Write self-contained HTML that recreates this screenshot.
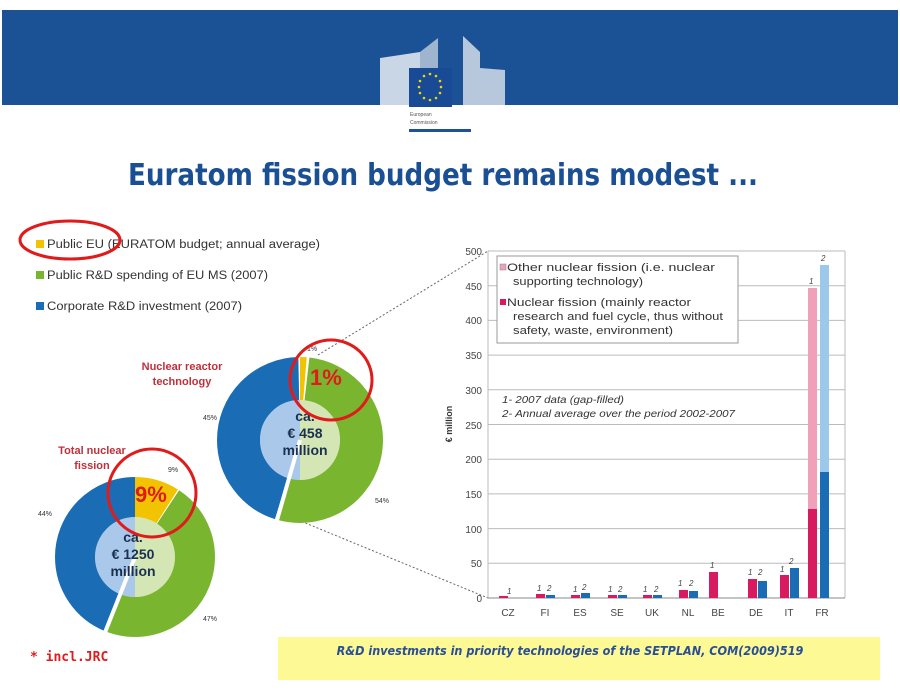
<!DOCTYPE html>
<html><head><meta charset="utf-8"><style>
body{margin:0;background:#fff;}
svg{display:block;font-family:"Liberation Sans",sans-serif;}
</style></head><body>
<svg width="900" height="695" viewBox="0 0 900 695">
<rect x="2" y="10" width="896" height="95" fill="#1b5296"/>
<!-- logo -->
<g>
<path d="M380 58 L420 52 L420 105 L380 105Z" fill="#c9d6e6"/>
<path d="M420 52 L438 38 L438 105 L420 105Z" fill="#9fb4cf"/>
<path d="M463 36 L480 52 L480 68 L505 70 L505 105 L463 105Z" fill="#b7c8dd"/>
<rect x="409" y="68" width="43" height="39" fill="#184a96"/>
<g fill="#f2d500">
<circle cx="430" cy="74" r="1.3"/><circle cx="436" cy="76" r="1.3"/><circle cx="440" cy="81" r="1.3"/><circle cx="441" cy="87" r="1.3"/><circle cx="440" cy="93" r="1.3"/><circle cx="436" cy="98" r="1.3"/><circle cx="430" cy="100" r="1.3"/><circle cx="424" cy="98" r="1.3"/><circle cx="420" cy="93" r="1.3"/><circle cx="419" cy="87" r="1.3"/><circle cx="420" cy="81" r="1.3"/><circle cx="424" cy="76" r="1.3"/>
</g>
<text x="410" y="116" font-size="5" fill="#555">European</text>
<text x="410" y="124" font-size="5" fill="#555">Commission</text>
<rect x="409" y="129" width="62" height="3" fill="#1b5296"/>
</g>
<text x="128" y="185" textLength="630" lengthAdjust="spacingAndGlyphs" font-size="30" font-weight="bold" fill="#1a4f94" font-family="DejaVu Sans Condensed, DejaVu Sans, sans-serif">Euratom fission budget remains modest ...</text>

<!-- legend left -->
<rect x="36" y="240" width="8" height="8" fill="#f2c300"/>
<text x="47" y="248" font-size="11.5" fill="#333" textLength="273" lengthAdjust="spacingAndGlyphs">Public EU (EURATOM budget; annual average)</text>
<rect x="36" y="271" width="8" height="8" fill="#7ab530"/>
<text x="47" y="279" font-size="11.5" fill="#333" textLength="221" lengthAdjust="spacingAndGlyphs">Public R&amp;D spending of EU MS (2007)</text>
<rect x="36" y="302" width="8" height="8" fill="#1a6db5"/>
<text x="47" y="310" font-size="11.5" fill="#333" textLength="195" lengthAdjust="spacingAndGlyphs">Corporate R&amp;D investment (2007)</text>
<ellipse cx="70" cy="240" rx="50" ry="19" fill="none" stroke="#e01b1b" stroke-width="3"/>

<!-- dashed connectors -->
<line x1="318" y1="355" x2="488" y2="251" stroke="#666" stroke-dasharray="2,2"/>
<line x1="298" y1="520" x2="488" y2="598" stroke="#666" stroke-dasharray="2,2"/>

<!-- donut 1 -->
<g transform="translate(300,440)">
<path d="M0 0 L0 -40 A40 40 0 0 0 0 40Z" fill="#a9c8ea"/>
<path d="M0 0 L0 -40 A40 40 0 0 1 0 40Z" fill="#d5e6b5"/>
<g transform="rotate(-90)" fill="none" stroke-width="43">
<circle r="61.5" stroke="#f2c300" stroke-dasharray="5 400"/>
<circle r="61.5" stroke="#7ab530" stroke-dasharray="0 7 204 400"/>
<circle r="61.5" stroke="#1a6db5" stroke-dasharray="0 212 173 400"/>
</g>
<line x1="0" y1="0" x2="-29" y2="101" stroke="#fff" stroke-width="4"/>
</g>
<text x="305" y="421" font-size="14" font-weight="bold" fill="#1a3050" text-anchor="middle">ca.</text>
<text x="305" y="438" font-size="14" font-weight="bold" fill="#1a3050" text-anchor="middle">€ 458</text>
<text x="305" y="455" font-size="14" font-weight="bold" fill="#1a3050" text-anchor="middle">million</text>
<text x="182" y="370" font-size="11" font-weight="bold" fill="#c0303a" text-anchor="middle">Nuclear reactor</text>
<text x="182" y="385" font-size="11" font-weight="bold" fill="#c0303a" text-anchor="middle">technology</text>
<text x="203" y="420" font-size="7" fill="#333">45%</text>
<text x="375" y="503" font-size="7" fill="#333">54%</text>
<text x="307" y="351" font-size="7" fill="#333">1%</text>
<text x="310" y="385" font-size="22" font-weight="bold" fill="#e01b1b">1%</text>
<ellipse cx="331" cy="380" rx="41" ry="40" fill="none" stroke="#e01b1b" stroke-width="3"/>

<!-- donut 2 -->
<g transform="translate(135,557)">
<path d="M0 0 L0 -40 A40 40 0 0 0 0 40Z" fill="#a9c8ea"/>
<path d="M0 0 L0 -40 A40 40 0 0 1 0 40Z" fill="#d5e6b5"/>
<g transform="rotate(-90)" fill="none" stroke-width="40">
<circle r="60" stroke="#f2c300" stroke-dasharray="34 400"/>
<circle r="60" stroke="#7ab530" stroke-dasharray="0 35 176 400"/>
<circle r="60" stroke="#1a6db5" stroke-dasharray="0 211 166 400"/>
</g>
<line x1="0" y1="0" x2="-37" y2="93" stroke="#fff" stroke-width="4"/>
</g>
<text x="133" y="542" font-size="14" font-weight="bold" fill="#1a3050" text-anchor="middle">ca.</text>
<text x="133" y="559" font-size="14" font-weight="bold" fill="#1a3050" text-anchor="middle">€ 1250</text>
<text x="133" y="576" font-size="14" font-weight="bold" fill="#1a3050" text-anchor="middle">million</text>
<text x="92" y="454" font-size="11" font-weight="bold" fill="#c0303a" text-anchor="middle">Total nuclear</text>
<text x="92" y="469" font-size="11" font-weight="bold" fill="#c0303a" text-anchor="middle">fission</text>
<text x="168" y="472" font-size="7" fill="#333">9%</text>
<text x="38" y="516" font-size="7" fill="#333">44%</text>
<text x="203" y="621" font-size="7" fill="#333">47%</text>
<text x="135" y="502" font-size="22" font-weight="bold" fill="#e01b1b">9%</text>
<ellipse cx="152" cy="493" rx="44" ry="44" fill="none" stroke="#e01b1b" stroke-width="3"/>

<!-- bar chart -->
<g stroke="#bbb" stroke-width="1">
<line x1="488" y1="251" x2="845" y2="251"/><line x1="488" y1="285.7" x2="845" y2="285.7"/><line x1="488" y1="320.4" x2="845" y2="320.4"/><line x1="488" y1="355.1" x2="845" y2="355.1"/><line x1="488" y1="389.8" x2="845" y2="389.8"/><line x1="488" y1="424.5" x2="845" y2="424.5"/><line x1="488" y1="459.2" x2="845" y2="459.2"/><line x1="488" y1="493.9" x2="845" y2="493.9"/><line x1="488" y1="528.6" x2="845" y2="528.6"/><line x1="488" y1="563.3" x2="845" y2="563.3"/>
<line x1="488" y1="251" x2="488" y2="598"/><line x1="845" y1="251" x2="845" y2="598"/>
</g>
<line x1="488" y1="598" x2="845" y2="598" stroke="#888"/>
<g font-size="10" fill="#444" text-anchor="end">
<text x="482" y="255">500</text><text x="482" y="290">450</text><text x="482" y="324">400</text><text x="482" y="359">350</text><text x="482" y="394">300</text><text x="482" y="429">250</text><text x="482" y="463">200</text><text x="482" y="498">150</text><text x="482" y="533">100</text><text x="482" y="567">50</text><text x="482" y="602">0</text>
</g>
<text transform="translate(452,424) rotate(-90)" font-size="9" font-weight="bold" fill="#333" text-anchor="middle">€ million</text>
<g fill="#d81b60">
<rect x="499" y="596" width="9" height="2"/>
<rect x="536" y="594" width="9" height="4"/>
<rect x="571" y="595" width="9" height="3"/>
<rect x="608" y="595" width="9" height="3"/>
<rect x="643" y="595" width="9" height="3"/>
<rect x="679" y="590" width="9" height="8"/>
<rect x="709" y="572" width="9" height="26"/>
<rect x="748" y="579" width="9" height="19"/>
<rect x="780" y="575" width="9" height="23"/>
<rect x="808" y="509" width="9" height="89"/>
</g>
<rect x="808" y="288" width="9" height="221" fill="#f0a0b8"/>
<g fill="#1a6db5">
<rect x="546" y="595" width="9" height="3"/>
<rect x="581" y="593" width="9" height="5"/>
<rect x="618" y="595" width="9" height="3"/>
<rect x="653" y="595" width="9" height="3"/>
<rect x="689" y="591" width="9" height="7"/>
<rect x="758" y="581" width="9" height="17"/>
<rect x="790" y="568" width="9" height="30"/>
<rect x="820" y="472" width="9" height="126"/>
</g>
<rect x="820" y="265" width="9" height="207" fill="#9cc8ec"/>
<g font-size="8" font-style="italic" fill="#444">
<text x="507" y="594">1</text><text x="537" y="591">1</text><text x="547" y="591">2</text><text x="573" y="592">1</text><text x="582" y="590">2</text><text x="608" y="592">1</text><text x="618" y="592">2</text><text x="643" y="592">1</text><text x="654" y="592">2</text><text x="678" y="586">1</text><text x="689" y="586">2</text><text x="710" y="568">1</text><text x="748" y="575">1</text><text x="758" y="575">2</text><text x="780" y="572">1</text><text x="789" y="564">2</text><text x="809" y="284">1</text><text x="821" y="261">2</text>
</g>
<g font-size="10" fill="#444" text-anchor="middle">
<text x="508" y="616">CZ</text><text x="545" y="616">FI</text><text x="580" y="616">ES</text><text x="617" y="616">SE</text><text x="652" y="616">UK</text><text x="688" y="616">NL</text><text x="718" y="616">BE</text><text x="756" y="616">DE</text><text x="789" y="616">IT</text><text x="822" y="616">FR</text>
</g>
<rect x="497" y="256" width="241" height="87" fill="#fff" stroke="#999"/>
<rect x="500" y="264" width="6" height="6" fill="#f0a0b8" stroke="#888" stroke-width="0.5"/>
<text x="507" y="271" font-size="11" fill="#333" textLength="208" lengthAdjust="spacingAndGlyphs">Other nuclear fission (i.e. nuclear</text>
<text x="513" y="285" font-size="11" fill="#333" textLength="130" lengthAdjust="spacingAndGlyphs">supporting technology)</text>
<rect x="500" y="299" width="6" height="6" fill="#d81b60"/>
<text x="507" y="306" font-size="11" fill="#333" textLength="184" lengthAdjust="spacingAndGlyphs">Nuclear fission (mainly reactor</text>
<text x="513" y="320" font-size="11" fill="#333" textLength="210" lengthAdjust="spacingAndGlyphs">research and fuel cycle, thus without</text>
<text x="513" y="334" font-size="11" fill="#333" textLength="160" lengthAdjust="spacingAndGlyphs">safety, waste, environment)</text>
<text x="502" y="403" font-size="10" font-style="italic" fill="#333" textLength="122" lengthAdjust="spacingAndGlyphs">1- 2007 data (gap-filled)</text>
<text x="502" y="417" font-size="10" font-style="italic" fill="#333" textLength="233" lengthAdjust="spacingAndGlyphs">2- Annual average over the period 2002-2007</text>

<!-- footer -->
<rect x="278" y="637" width="602" height="43" fill="#fdfa96"/>
<text x="570" y="655" text-anchor="middle" font-size="12.5" font-weight="bold" font-style="italic" fill="#2a4e96" font-family="DejaVu Sans Condensed, DejaVu Sans, sans-serif">R&amp;D investments in priority technologies of the SETPLAN, COM(2009)519</text>
<text x="30" y="661" font-size="13" font-weight="bold" fill="#e01b1b" font-family="DejaVu Sans Mono, monospace">* incl.JRC</text>
</svg>
</body></html>
